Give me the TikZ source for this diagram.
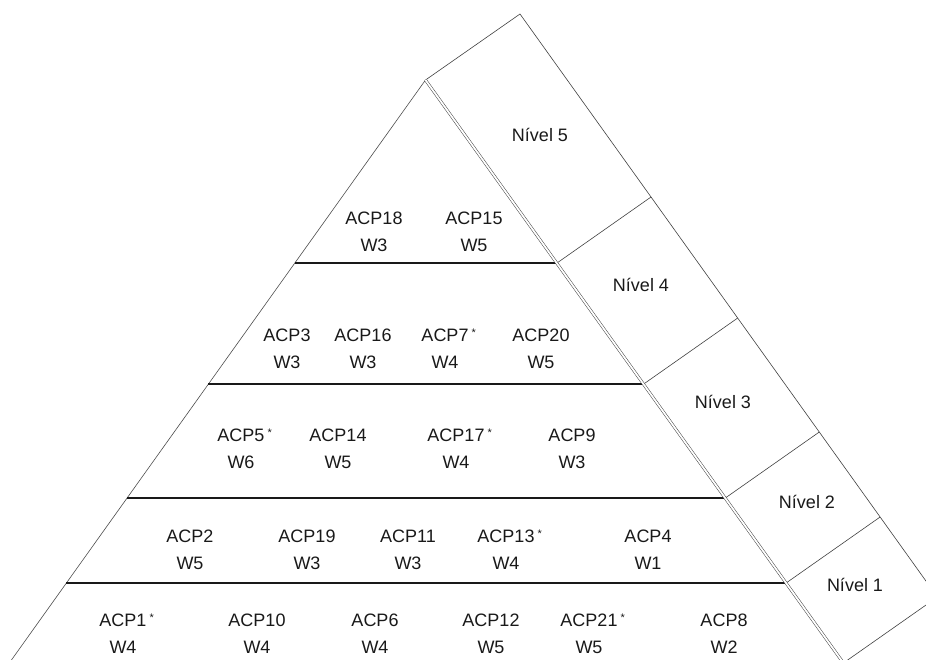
\documentclass[tikz,border=0pt]{standalone}
\usepackage{fontspec}
\setmainfont{Liberation Sans}
\begin{document}
\begin{tikzpicture}[x=1pt,y=-1pt,
  rung/.style={line width=1.1pt, draw=black!90},
  flank/.style={line width=0.6pt, draw=black!70},
  face/.style={line width=0.6pt, draw=black!75},
  ridge/.style={double, double distance=1.8pt, line width=0.5pt, draw=black!75},
  item/.style={align=center, font=\fontsize{18}{27}\selectfont, inner sep=0pt, text=black!90},
  lvl/.style={font=\fontsize{18}{20}\selectfont, inner sep=0pt, text=black!90}]
\newcommand{\mk}{\rlap{\,\raisebox{5pt}{\fontsize{11}{11}\selectfont *}}}
\useasboundingbox (0,0) rectangle (926,659);
\clip (0,0) rectangle (926,659);

% apex, left flank and ridge of the pyramid
\coordinate (apex) at (425.5,80);
\coordinate (baseL) at (9.3,663);
\coordinate (baseR) at (843.4,663);
% level boundaries on the left flank and on the ridge
\coordinate (aL) at (294.5,263);  \coordinate (aR) at (557.0,263);
\coordinate (bL) at (208.2,384);  \coordinate (bR) at (643.7,384);
\coordinate (cL) at (127.0,498);  \coordinate (cR) at (725.3,498);
\coordinate (dL) at (66.4,583);   \coordinate (dR) at (786.1,583);
% outer edge of the side face
\coordinate (topO) at (520,14);
\coordinate (aO) at (651,197);
\coordinate (bO) at (737.7,318);
\coordinate (cO) at (819.3,432);
\coordinate (dO) at (880.1,517);
\coordinate (baseO) at (937.4,597);

% side face
\draw[face] (apex) -- (topO) -- (baseO);
\draw[face] (aR) -- (aO);
\draw[face] (bR) -- (bO);
\draw[face] (cR) -- (cO);
\draw[face] (dR) -- (dO);
\draw[face] (baseR) -- (baseO);

% pyramid body
\draw[flank] (apex) -- (baseL);
\draw[rung] (aL) -- (aR);
\draw[rung] (bL) -- (bR);
\draw[rung] (cL) -- (cR);
\draw[rung] (dL) -- (dR);
\draw[rung] (baseL) -- (baseR);
\draw[ridge] (apex) -- (baseR);

% level 5
\node[item] (p18) at (374,231.5) {ACP18\\W3};
\node[item] (p15) at (474,231.5) {ACP15\\W5};
% level 4
\node[item] (p3)  at (287,348.5) {ACP3\\W3};
\node[item] (p16) at (363,348.5) {ACP16\\W3};
\node[item] (p7)  at (445,348.5) {ACP7\mk\\W4};
\node[item] (p20) at (541,348.5) {ACP20\\W5};
% level 3
\node[item] (p5)  at (241,449) {ACP5\mk\\W6};
\node[item] (p14) at (338,449) {ACP14\\W5};
\node[item] (p17) at (456,449) {ACP17\mk\\W4};
\node[item] (p9)  at (572,449) {ACP9\\W3};
% level 2
\node[item] (p2)  at (190,549.5) {ACP2\\W5};
\node[item] (p19) at (307,549.5) {ACP19\\W3};
\node[item] (p11) at (408,549.5) {ACP11\\W3};
\node[item] (p13) at (506,549.5) {ACP13\mk\\W4};
\node[item] (p4)  at (648,549.5) {ACP4\\W1};
% level 1
\node[item] (p1)  at (123,633.5) {ACP1\mk\\W4};
\node[item] (p10) at (257,633.5) {ACP10\\W4};
\node[item] (p6)  at (375,633.5) {ACP6\\W4};
\node[item] (p12) at (491,633.5) {ACP12\\W5};
\node[item] (p21) at (589,633.5) {ACP21\mk\\W5};
\node[item] (p8)  at (724,633.5) {ACP8\\W2};

% level labels on the side face
\node[lvl] (n5) at (540,135) {Nível 5};
\node[lvl] (n4) at (641,285) {Nível 4};
\node[lvl] (n3) at (723,402) {Nível 3};
\node[lvl] (n2) at (807,502) {Nível 2};
\node[lvl] (n1) at (855,585) {Nível 1};
\end{tikzpicture}
\end{document}
